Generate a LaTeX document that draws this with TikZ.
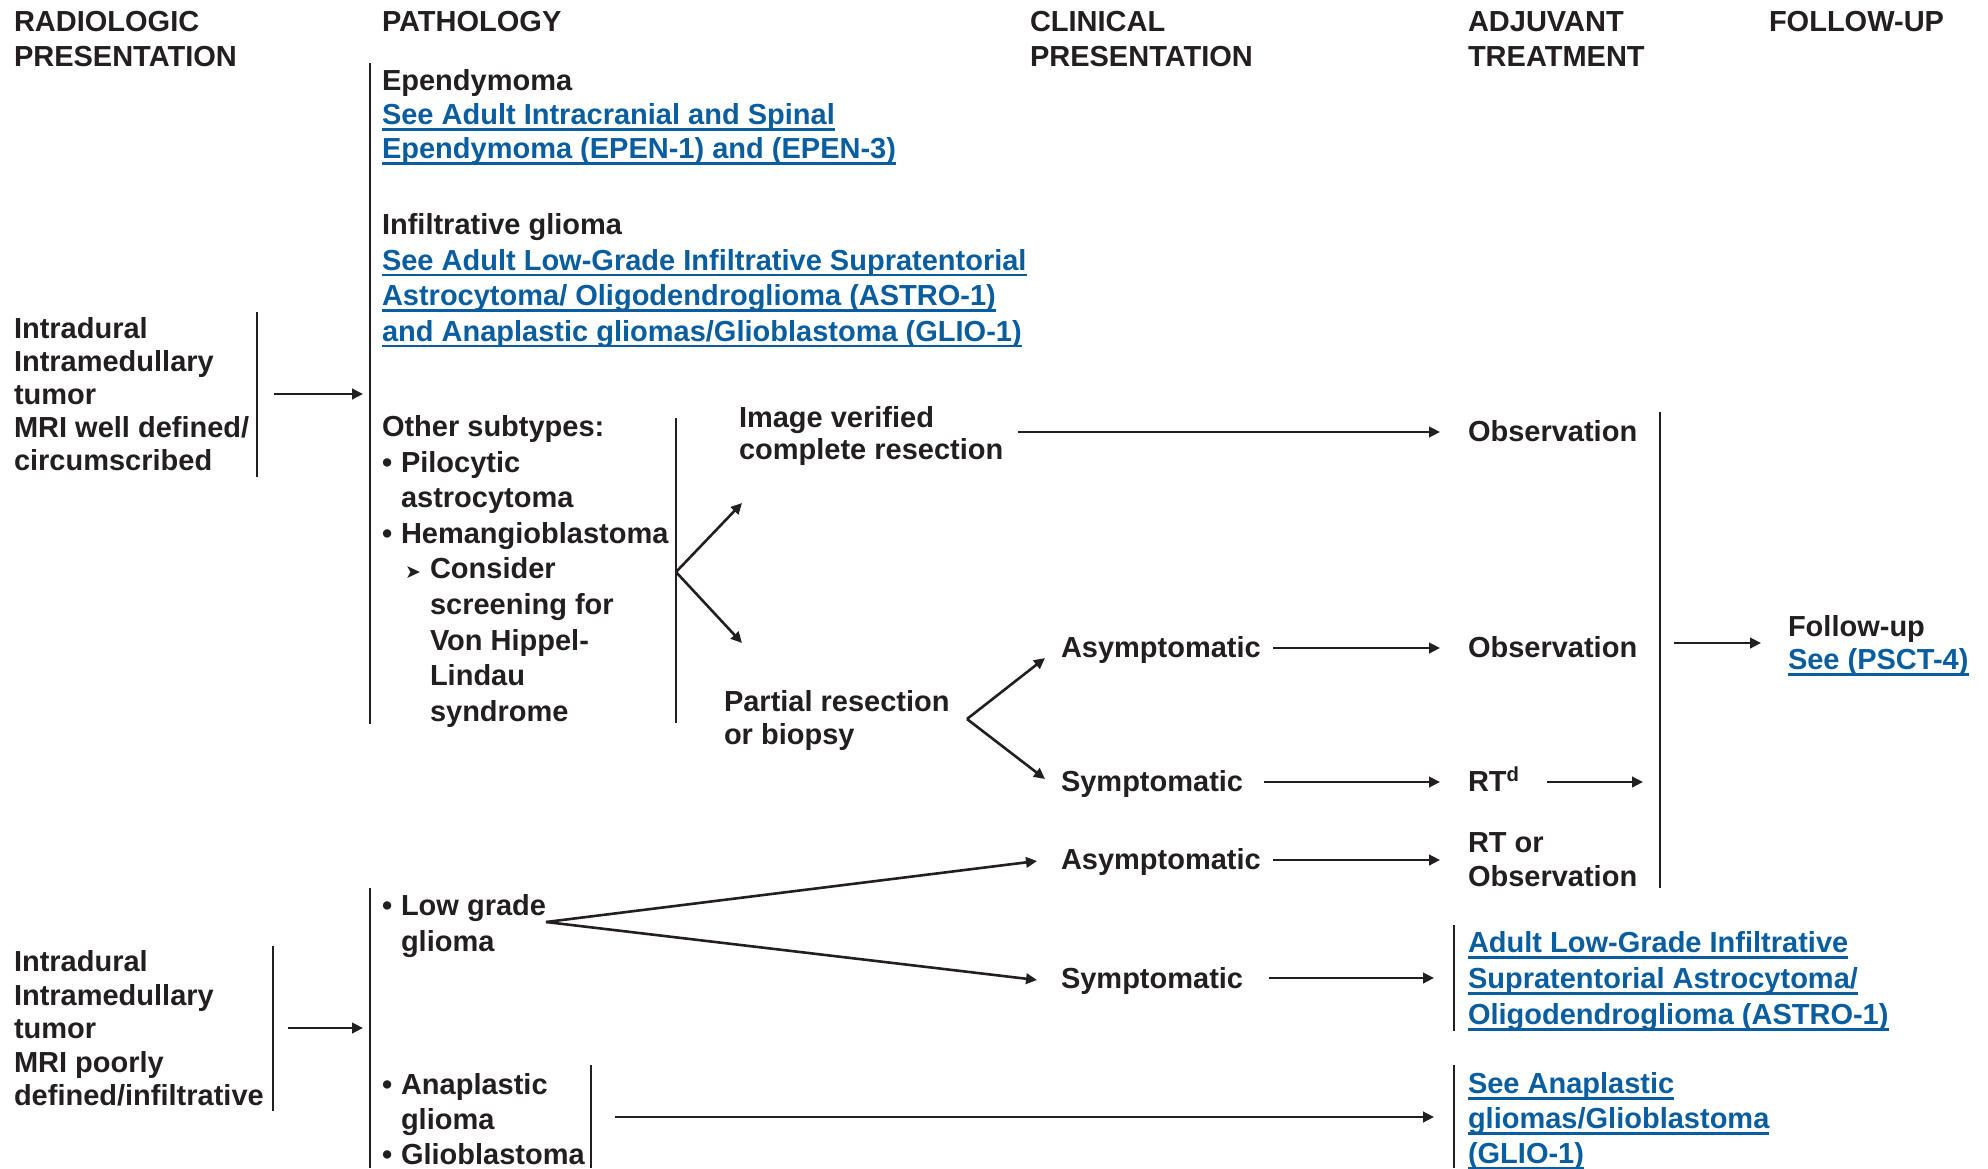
\documentclass[tikz,border=0pt]{standalone}
\usepackage{fontspec}
\setmainfont{Liberation Sans}
\newfontfamily\dvfont{DejaVu Sans}
\usetikzlibrary{arrows.meta}
\definecolor{ink}{HTML}{231F20}
\definecolor{lnk}{HTML}{0A5EA0}
\newcommand\ulk[1]{\setbox0\hbox{#1}\rlap{\rule[-6pt]{\wd0}{2.2pt}}\box0}
\newcommand\lk[1]{{\color{lnk}\ulk{#1}}}
\newcommand\bul{\makebox[19pt][l]{\textbullet}}
\newcommand\tri{\hspace*{23pt}\makebox[25pt][l]{\raisebox{0.5pt}{\dvfont\fontsize{19}{19}\selectfont ➤}}}
\tikzset{
  txt/.style={anchor=north west, inner sep=0pt, outer sep=0pt, align=left, text=ink,
    font=\bfseries\fontsize{29}{35}\selectfont, yshift=15.5pt, execute at begin node=\strut},
  ml/.style={yshift=-5pt},
  bs/.style={font=\bfseries\fontsize{29}{#1}\selectfont},
  arr/.style={draw=ink, line width=2.6pt, -{Triangle[length=11pt,width=10.5pt]}},
  bar/.style={draw=ink, line width=2pt}
}
\begin{document}
\begin{tikzpicture}[x=1pt,y=-1pt]
\useasboundingbox (0,0) rectangle (1988,1168);
% headers
\node[txt, ml] (hRad) at (14,22) {RADIOLOGIC\\PRESENTATION};
\node[txt] (hPath) at (382,22) {PATHOLOGY};
\node[txt, ml] (hClin) at (1030,22) {CLINICAL\\PRESENTATION};
\node[txt, ml] (hAdj) at (1468,22) {ADJUVANT\\TREATMENT};
\node[txt] (hFol) at (1769,22) {FOLLOW-UP};
% row 1
\node[txt, ml, bs=33] (left1) at (14,328) {Intradural\\Intramedullary\\tumor\\MRI well defined/\\circumscribed};
\draw[bar] (257,312) coordinate (l1t) -- (257,477) coordinate (l1b);
\coordinate (a1s) at (274,394); \coordinate (a1e) at (363,394);
\draw[arr] (a1s) -- (a1e);
\draw[bar] (370,63) coordinate (p1t) -- (370,724) coordinate (p1b);
\node[txt, ml, bs=34] (epen) at (382,80) {Ependymoma\\\lk{See Adult Intracranial and Spinal}\\\lk{Ependymoma (EPEN-1) and (EPEN-3)}};
\node[txt, ml, bs=35.5] (infil) at (382,224) {Infiltrative glioma\\\lk{See Adult Low-Grade Infiltrative Supratentorial}\\\lk{Astrocytoma/ Oligodendroglioma (ASTRO-1)}\\\lk{and Anaplastic gliomas/Glioblastoma (GLIO-1)}};
\node[txt, ml, bs=35.6] (other) at (382,426) {Other subtypes:\\\bul Pilocytic\\\hspace*{19pt}astrocytoma\\\bul Hemangioblastoma\\\tri Consider\\\hspace*{48pt}screening for\\\hspace*{48pt}Von Hippel-\\\hspace*{48pt}Lindau\\\hspace*{48pt}syndrome};
\draw[bar] (676,418) coordinate (p2t) -- (676,723) coordinate (p2b);
\coordinate (b1) at (676,572);
\coordinate (b1u) at (742,503); \coordinate (b1d) at (742,643);
\draw[arr] (b1) -- (b1u);
\draw[arr] (b1) -- (b1d);
\node[txt, ml, bs=32] (imgv) at (739,417) {Image verified\\complete resection};
\coordinate (a2s) at (1018,432); \coordinate (a2e) at (1440,432);
\draw[arr] (a2s) -- (a2e);
\node[txt] (obs1) at (1468,432) {Observation};
\node[txt, ml, bs=33] (part) at (724,701) {Partial resection\\or biopsy};
\coordinate (b2) at (967,719);
\coordinate (b2u) at (1045,658); \coordinate (b2d) at (1045,779);
\draw[arr] (b2) -- (b2u);
\draw[arr] (b2) -- (b2d);
\node[txt] (asym1) at (1061,648) {Asymptomatic};
\coordinate (a3s) at (1273,648); \coordinate (a3e) at (1440,648);
\draw[arr] (a3s) -- (a3e);
\node[txt] (obs2) at (1468,648) {Observation};
\node[txt] (sym1) at (1061,782) {Symptomatic};
\coordinate (a4s) at (1264,782); \coordinate (a4e) at (1440,782);
\draw[arr] (a4s) -- (a4e);
\node[txt] (rtd) at (1468,782) {RT\textsuperscript{d}};
\coordinate (a5s) at (1547,782); \coordinate (a5e) at (1643,782);
\draw[arr] (a5s) -- (a5e);
\draw[bar] (1660,412) coordinate (ft) -- (1660,888) coordinate (fb);
\coordinate (a6s) at (1674,643); \coordinate (a6e) at (1761,643);
\draw[arr] (a6s) -- (a6e);
\node[txt, ml, bs=33] (fol) at (1788,626) {Follow-up\\\lk{See (PSCT-4)}};
% row 2
\node[txt, ml, bs=33.5] (left2) at (14,961) {Intradural\\Intramedullary\\tumor\\MRI poorly\\defined/infiltrative};
\draw[bar] (273,946) coordinate (l2t) -- (273,1111) coordinate (l2b);
\coordinate (a7s) at (288,1028); \coordinate (a7e) at (363,1028);
\draw[arr] (a7s) -- (a7e);
\draw[bar] (370,888) coordinate (p3t) -- (370,1168) coordinate (p3b);
\node[txt, ml, bs=36] (low) at (382,905) {\bul Low grade\\\hspace*{19pt}glioma};
\coordinate (b3) at (546,922);
\coordinate (b3u) at (1037,861); \coordinate (b3d) at (1037,980);
\draw[arr] (b3) -- (b3u);
\draw[arr] (b3) -- (b3d);
\node[txt] (asym2) at (1061,860) {Asymptomatic};
\coordinate (a8s) at (1273,860); \coordinate (a8e) at (1440,860);
\draw[arr] (a8s) -- (a8e);
\node[txt, ml, bs=34] (rtobs) at (1468,843) {RT or\\Observation};
\node[txt] (sym2) at (1061,979) {Symptomatic};
\coordinate (a9s) at (1269,978); \coordinate (a9e) at (1434,978);
\draw[arr] (a9s) -- (a9e);
\draw[bar] (1454,925) coordinate (astt) -- (1454,1031) coordinate (astb);
\node[txt, ml, bs=36] (astro) at (1468,942) {\lk{Adult Low-Grade Infiltrative}\\\lk{Supratentorial Astrocytoma/}\\\lk{Oligodendroglioma (ASTRO-1)}};
\node[txt, ml, bs=35] (anap) at (382,1084) {\bul Anaplastic\\\hspace*{19pt}glioma\\\bul Glioblastoma};
\draw[bar] (591,1065) coordinate (p4t) -- (591,1168) coordinate (p4b);
\coordinate (a10s) at (615,1117); \coordinate (a10e) at (1434,1117);
\draw[arr] (a10s) -- (a10e);
\draw[bar] (1454,1065) coordinate (glt) -- (1454,1168) coordinate (glb);
\node[txt, ml, bs=35] (glio) at (1468,1083) {\lk{See Anaplastic}\\\lk{gliomas/Glioblastoma}\\\lk{(GLIO-1)}};
\end{tikzpicture}
\end{document}
